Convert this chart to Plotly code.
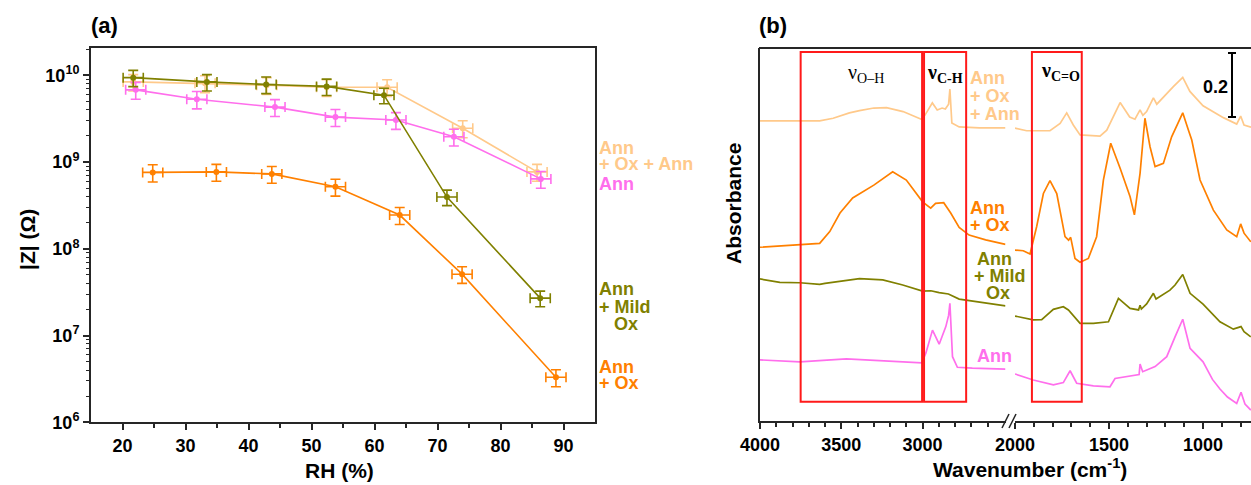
import plotly.graph_objects as go

W, H = 1251, 485

# ---------------- Panel (a) data ----------------
rh_ann_ox_ann = [21.7, 33.1, 42.9, 52.4, 62.0, 74.0, 85.8]
z_ann_ox_ann = [8.4e9, 8.1e9, 7.7e9, 7.3e9, 7.3e9, 2.45e9, 7.7e8]
ez_ann_ox_ann = [1.8e9, 1.8e9, 1.7e9, 1.6e9, 1.6e9, 5.4e8, 1.7e8]

rh_ann = [22.1, 31.8, 44.2, 53.8, 63.4, 72.6, 86.4]
z_ann = [6.8e9, 5.3e9, 4.3e9, 3.3e9, 3.05e9, 1.96e9, 6.4e8]
ez_ann = [1.5e9, 1.2e9, 9.5e8, 7.3e8, 6.7e8, 4.3e8, 1.4e8]

rh_ann_ox = [24.8, 34.9, 43.7, 53.8, 64.0, 73.9, 88.8]
z_ann_ox = [7.6e8, 7.7e8, 7.3e8, 5.2e8, 2.45e8, 5.1e7, 3.3e6]
ez_ann_ox = [1.7e8, 1.7e8, 1.6e8, 1.15e8, 5.4e7, 1.1e7, 7.3e5]

rh_ann_mild = [21.7, 33.4, 42.8, 52.4, 61.5, 71.5, 86.3]
z_ann_mild = [9.4e9, 8.4e9, 7.85e9, 7.45e9, 5.9e9, 3.95e8, 2.7e7]
ez_ann_mild = [2.0e9, 1.8e9, 1.7e9, 1.6e9, 1.2e9, 8.0e7, 5.5e6]

erh = [1.6, 1.6, 1.6, 1.6, 1.6, 1.6, 1.6]

# ---------------- Panel (b) data (absorbance, offset curves) ----------------
wn_aoa_l = [4000, 3633, 3550, 3450, 3388, 3300, 3222, 3120, 3008, 2985, 2940, 2910,
            2880, 2860, 2840, 2832, 2820, 2775, 2650, 2490]
ab_aoa_l = [0.938, 0.938, 0.946, 0.963, 0.970, 0.978, 0.979, 0.967, 0.943, 0.956, 0.994, 0.972,
            0.978, 0.975, 0.990, 1.037, 0.931, 0.919, 0.916, 0.916]
wn_aoa_r = [2000, 1938, 1814, 1760, 1725, 1690, 1654, 1548, 1512, 1441, 1390, 1362, 1335,
            1320, 1300, 1264, 1246, 1193, 1158, 1108, 1070, 1000, 892, 821, 800, 782, 745]
ab_aoa_r = [0.915, 0.907, 0.907, 0.930, 0.963, 0.925, 0.894, 0.890, 0.909, 0.995, 0.950, 0.943, 0.972,
            0.955, 0.967, 1.010, 0.990, 1.024, 1.045, 1.074, 1.030, 0.985, 0.948, 0.928, 0.953, 0.925, 0.918]

wn_ao_l = [4000, 3633, 3571, 3508, 3430, 3300, 3184, 3100, 3000, 2950, 2920, 2870, 2827,
           2775, 2714, 2612, 2490]
ab_ao_l = [0.543, 0.555, 0.592, 0.650, 0.697, 0.737, 0.779, 0.753, 0.685, 0.665, 0.680, 0.682, 0.650,
           0.605, 0.581, 0.566, 0.552]
wn_ao_r = [2000, 1956, 1920, 1885, 1849, 1814, 1778, 1734, 1715, 1704, 1681, 1654, 1610, 1566,
           1530, 1491, 1441, 1388, 1365, 1335, 1309, 1282, 1255, 1211, 1167, 1140, 1108, 1078,
           1060, 1016, 945, 874, 821, 800, 782, 746]
ab_ao_r = [0.534, 0.532, 0.522, 0.607, 0.711, 0.751, 0.711, 0.576, 0.565, 0.574, 0.508, 0.496, 0.508, 0.576,
           0.753, 0.868, 0.790, 0.701, 0.644, 0.774, 0.946, 0.857, 0.795, 0.805, 0.888, 0.920, 0.963, 0.909,
           0.878, 0.753, 0.659, 0.597, 0.576, 0.616, 0.587, 0.560]

wn_am_l = [4000, 3878, 3755, 3633, 3600, 3531, 3388, 3245, 3122, 3000, 2949, 2898, 2841,
           2775, 2673, 2490]
ab_am_l = [0.444, 0.433, 0.432, 0.427, 0.430, 0.435, 0.445, 0.441, 0.425, 0.406, 0.407, 0.401, 0.397,
           0.381, 0.373, 0.360]
wn_am_r = [2000, 1903, 1858, 1796, 1743, 1716, 1654, 1583, 1503, 1450, 1388, 1343, 1335, 1328,
           1300, 1264, 1250, 1176, 1149, 1108, 1069, 1000, 910, 839, 798, 782, 746]
ab_am_r = [0.328, 0.316, 0.317, 0.349, 0.357, 0.347, 0.305, 0.305, 0.310, 0.383, 0.352, 0.347, 0.362, 0.350,
           0.366, 0.399, 0.381, 0.409, 0.425, 0.458, 0.399, 0.365, 0.310, 0.287, 0.295, 0.279, 0.263]

wn_an_l = [4000, 3755, 3469, 3184, 3006, 2980, 2939, 2898, 2857, 2840, 2832, 2816, 2786,
           2694, 2490]
ab_an_l = [0.191, 0.185, 0.194, 0.188, 0.182, 0.212, 0.284, 0.240, 0.295, 0.330, 0.368, 0.201, 0.168,
           0.165, 0.162]
wn_an_r = [2000, 1903, 1796, 1743, 1707, 1672, 1583, 1495, 1468, 1406, 1340, 1335, 1321, 1255,
           1193, 1149, 1108, 1069, 1000, 950, 910, 870, 821, 798, 777, 746]
ab_an_r = [0.147, 0.128, 0.113, 0.120, 0.157, 0.118, 0.110, 0.107, 0.133, 0.138, 0.145, 0.178, 0.154, 0.170,
           0.201, 0.263, 0.318, 0.227, 0.185, 0.130, 0.100, 0.075, 0.055, 0.090, 0.053, 0.034]

# highlighted regions (cm-1) and their vertical span (absorbance units)
box_ranges = [(3750, 3003, "x2"), (2991, 2732, "x2"), (1910, 1645, "x3")]
box_y = (0.06, 1.153)

C_OLIVE = "#808000"
C_ORANGE = "#FF8000"
C_LORANGE = "#FFC98A"
C_PINK = "#FF6EEC"
AX = "#262626"
FONT = "Liberation Sans"


def px(x):
    return x / W


def py(y):
    return 1 - y / H


fig = go.Figure()

# Panel (a)
series_a = [
    (rh_ann_ox_ann, z_ann_ox_ann, ez_ann_ox_ann, C_LORANGE),
    (rh_ann, z_ann, ez_ann, C_PINK),
    (rh_ann_ox, z_ann_ox, ez_ann_ox, C_ORANGE),
    (rh_ann_mild, z_ann_mild, ez_ann_mild, C_OLIVE),
]
for rh, z, ez, col in series_a:
    fig.add_trace(go.Scatter(
        x=rh, y=z, mode="lines+markers", xaxis="x", yaxis="y",
        line=dict(color=col, width=1.6), marker=dict(color=col, size=6),
        error_x=dict(type="data", array=erh, color=col, thickness=1.6, width=5),
        error_y=dict(type="data", array=ez, color=col, thickness=1.6, width=5),
        showlegend=False, hoverinfo="skip"))

# Panel (b)
series_b = [
    (wn_aoa_l, ab_aoa_l, wn_aoa_r, ab_aoa_r, C_LORANGE),
    (wn_ao_l, ab_ao_l, wn_ao_r, ab_ao_r, C_ORANGE),
    (wn_am_l, ab_am_l, wn_am_r, ab_am_r, C_OLIVE),
    (wn_an_l, ab_an_l, wn_an_r, ab_an_r, C_PINK),
]
for wl, al, wr, ar, col in series_b:
    fig.add_trace(go.Scatter(x=wl, y=al, mode="lines", xaxis="x2", yaxis="y2",
                             line=dict(color=col, width=1.7), showlegend=False, hoverinfo="skip"))
    fig.add_trace(go.Scatter(x=wr, y=ar, mode="lines", xaxis="x3", yaxis="y2",
                             line=dict(color=col, width=1.7), showlegend=False, hoverinfo="skip"))

TF = dict(family=FONT, size=18, color="black", weight="bold")

common = dict(showline=True, linewidth=2, linecolor=AX, showgrid=False, zeroline=False,
              ticks="outside", tickwidth=2, tickcolor=AX, ticklen=6, tickfont=TF,
              automargin=False)

minor_y = [k * 10 ** e for e in range(6, 11) for k in range(2, 10) if k * 10 ** e < 2.1e10]

fig.update_layout(
    template="none",
    width=W, height=H, margin=dict(l=0, r=0, t=0, b=0, pad=0),
    paper_bgcolor="white", plot_bgcolor="white", showlegend=False,
    xaxis=dict(domain=[px(91), px(595)], range=[15, 95], anchor="y", mirror=True,
               tickvals=[20, 30, 40, 50, 60, 70, 80, 90],
               minor=dict(tickvals=[25, 35, 45, 55, 65, 75, 85], ticks="outside", ticklen=4,
                          tickwidth=1.5, tickcolor=AX),
               **common),
    yaxis=dict(type="log", domain=[py(422.3), py(48)], range=[6, 10.315], anchor="x", mirror=True,
               tickvals=[1e6, 1e7, 1e8, 1e9, 1e10],
               ticktext=["10<sup>6</sup>", "10<sup>7</sup>", "10<sup>8</sup>", "10<sup>9</sup>",
                         "10<sup>10</sup>"],
               minor=dict(tickvals=minor_y, ticks="outside", ticklen=3, tickwidth=1.2, tickcolor=AX),
               **common),
    xaxis2=dict(domain=[px(760), px(1005.5)], range=[4000, 2490], anchor="y2",
                tickvals=[4000, 3500, 3000],
                minor=dict(tickvals=[3900, 3800, 3700, 3600, 3400, 3300, 3200, 3100, 2900, 2800,
                                     2700, 2600], ticks="outside", ticklen=4, tickwidth=1.5,
                           tickcolor=AX),
                **common),
    xaxis3=dict(domain=[px(1015), 1.0], range=[2000, 745], anchor="y2",
                tickvals=[2000, 1500, 1000],
                minor=dict(tickvals=[1900, 1800, 1700, 1600, 1400, 1300, 1200, 1100, 900, 800],
                           ticks="outside", ticklen=4, tickwidth=1.5, tickcolor=AX),
                **common),
    yaxis2=dict(domain=[py(421), py(48)], range=[0, 1.1656], anchor="x2",
                showline=True, linewidth=2, linecolor=AX, showgrid=False, zeroline=False,
                showticklabels=False, ticks="", automargin=False),
)

shapes = []
# top border of panel (b)
shapes.append(dict(type="line", xref="paper", yref="paper", x0=px(759), x1=1.0, y0=py(48), y1=py(48),
                   line=dict(color=AX, width=2)))
# axis break marks
for x0 in (1002, 1009):
    shapes.append(dict(type="line", xref="paper", yref="paper", x0=px(x0), x1=px(x0 + 7),
                       y0=py(428), y1=py(414), line=dict(color=AX, width=1.5)))
# red regions
for a, b, xr in box_ranges:
    shapes.append(dict(type="rect", xref=xr, yref="y2", x0=a, x1=b, y0=box_y[0], y1=box_y[1],
                       line=dict(color="#FF1A1A", width=2), fillcolor="rgba(0,0,0,0)"))
# 0.2 scale bar (absorbance units)
bar_lo, bar_hi = 0.95, 1.15
shapes.append(dict(type="line", xref="paper", yref="y2", x0=px(1232), x1=px(1232), y0=bar_lo, y1=bar_hi,
                   line=dict(color="black", width=2)))
for yv in (bar_lo, bar_hi):
    shapes.append(dict(type="line", xref="paper", yref="y2", x0=px(1228), x1=px(1236), y0=yv, y1=yv,
                       line=dict(color="black", width=2)))
fig.update_layout(shapes=shapes)

ann = []


def label(text, x, y, color="black", size=18, anchor="left", family=FONT, weight="bold", angle=0):
    ann.append(dict(text=text, x=px(x), y=py(y), xref="paper", yref="paper", showarrow=False,
                    xanchor=anchor, yanchor="middle", textangle=angle,
                    font=dict(family=family, size=size, color=color, weight=weight)))


label("(a)", 104, 25, size=22, anchor="center")
label("(b)", 773, 25, size=22, anchor="center")
label("|Z| (Ω)", 27, 240, size=21, anchor="center", angle=-90)
label("RH (%)", 339, 470, size=21, anchor="center")
label("Absorbance", 733, 204, size=21, anchor="center", angle=-90)
label("Wavenumber (cm<sup>-1</sup>)", 1030, 468, size=21, anchor="center")

# panel (a) series labels
label("Ann", 597, 148, C_LORANGE)
label("+ Ox + Ann", 597, 164, C_LORANGE)
label("Ann", 597, 184, C_PINK)
label("Ann", 597, 289, C_OLIVE)
label("+ Mild", 597, 307, C_OLIVE)
label("Ox", 612, 324, C_OLIVE)
label("Ann", 597, 367, C_ORANGE)
label("+ Ox", 597, 383, C_ORANGE)

# panel (b) series labels
label("Ann", 968, 78, C_LORANGE)
label("+ Ox", 968, 96, C_LORANGE)
label("+ Ann", 968, 114, C_LORANGE)
label("Ann", 968, 208, C_ORANGE)
label("+ Ox", 968, 225, C_ORANGE)
label("Ann", 994, 259, C_OLIVE, anchor="center")
label("+ Mild", 1000, 276, C_OLIVE, anchor="center")
label("Ox", 998, 293, C_OLIVE, anchor="center")
label("Ann", 994, 356, C_PINK, anchor="center")

# vibration labels
label("ν<sub>O–H</sub>", 866, 73, size=20, anchor="center", family="Liberation Serif", weight="normal")
label("ν<sub>C-H</sub>", 945, 73, size=20, anchor="center", family="Liberation Serif", weight="bold")
label("ν<sub>C=O</sub>", 1060, 71, size=20, anchor="center", family="Liberation Serif", weight="bold")
label("0.2", 1215, 87, size=18, anchor="center")

fig.update_layout(annotations=ann)

fig.write_html("out.html", config={"displayModeBar": False},
               post_script="document.body.style.margin='0';document.body.style.overflow='hidden';")
